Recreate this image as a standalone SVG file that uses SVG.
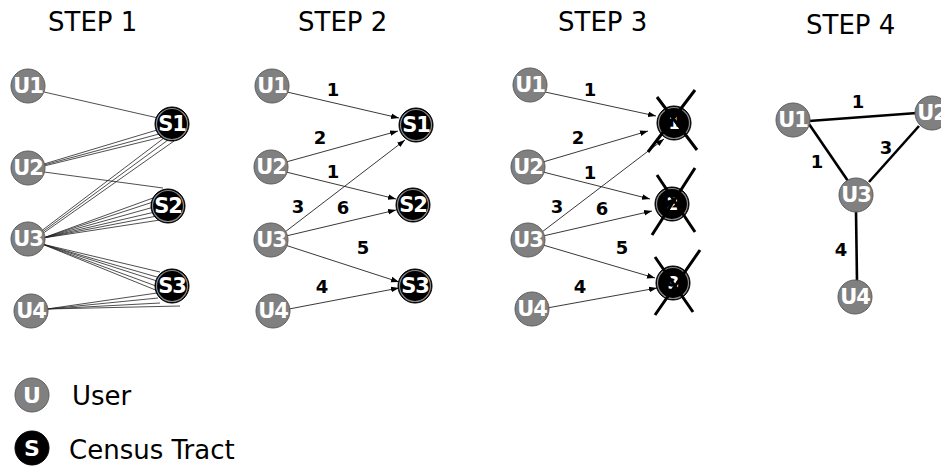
<svg xmlns="http://www.w3.org/2000/svg" width="941" height="467" viewBox="0 0 941 467">
<style>
.title{font-family:"DejaVu Sans",sans-serif;font-size:26px;fill:#000}
.leg{font-family:"DejaVu Sans",sans-serif;font-size:26px;fill:#000}
.u{fill:#808080;stroke:#5e5e5e;stroke-width:1}
.s{fill:#000;stroke:#000;stroke-width:1}
.sr{fill:none;stroke:#8a8a8a;stroke-width:1.2}
.nl{font-family:"DejaVu Sans",sans-serif;font-weight:bold;font-size:21px;letter-spacing:-1px;fill:#fff;text-anchor:middle;dominant-baseline:central}
.ll{font-family:"DejaVu Sans",sans-serif;font-weight:bold;font-size:22px;fill:#fff;text-anchor:middle;dominant-baseline:central}
.el{font-family:"DejaVu Sans",sans-serif;font-weight:bold;font-size:18px;fill:#000;text-anchor:middle}
.thin{stroke:#222;stroke-width:0.8;fill:none}
.arr{stroke:#222;stroke-width:0.9;fill:none;marker-end:url(#ah)}
.thick{stroke:#000;stroke-width:2.6;fill:none}
.x{stroke:#000;stroke-width:3;fill:none}
</style>
<defs>
<marker id="ah" viewBox="0 0 10 10" refX="10" refY="5" markerWidth="8" markerHeight="8" markerUnits="userSpaceOnUse" orient="auto">
<path d="M0,1.5 L10,5 L0,8.5 z" fill="#000"/>
</marker>
</defs>
<rect width="941" height="467" fill="#fff"/>
<text class="title" x="48" y="31">STEP 1</text>
<text class="title" x="298" y="31">STEP 2</text>
<text class="title" x="558" y="31">STEP 3</text>
<text class="title" x="806" y="34">STEP 4</text>

<g id="connectors">
<path class="thin" d="M44,92 L158,118"/>
<path class="thin" d="M44,164 L157,130 M44,165 L159,134 M44,166 L162,137"/>
<path class="thin" d="M44,172 L163,188"/>
<path class="thin" d="M40,232 L164,138 M41,233 L168,140 M42,234 L174,141"/>
<path class="thin" d="M43,238 L153,198 M43,238 L153,202 M43,238 L154,207 M43,238 L155,212 M43,238 L157,216 M43,238 L160,220"/>
<path class="thin" d="M42,244 L160,272 M42,244 L157,277 M42,244 L157,281 M42,244 L156,286 M42,244 L158,291"/>
<path class="thin" d="M47,309 L157,293 M47,309 L158,298 M47,309 L160,303 M47,309 L180,306"/>
<path class="arr" d="M287,92 L399,118"/>
<path class="arr" d="M286,162 L398,131"/>
<path class="arr" d="M285,232 L405,140"/>
<path class="arr" d="M286,172 L396,199"/>
<path class="arr" d="M286,236 L396,210"/>
<path class="arr" d="M285,245 L399,282"/>
<path class="arr" d="M289,309 L399,288"/>
<path class="arr" d="M545,92 L656,116"/>
<path class="arr" d="M543,162 L648,131"/>
<path class="arr" d="M542,232 L664,139"/>
<path class="arr" d="M543,172 L650,199"/>
<path class="arr" d="M543,236 L652,211"/>
<path class="arr" d="M543,245 L655,278"/>
<path class="arr" d="M547,308 L657,288"/>
<path class="thick" d="M809,121 L917,113"/>
<path class="thick" d="M809,124 L848,181"/>
<path class="thick" d="M919,126 L869,182"/>
<path class="thick" d="M856,211 L857,281"/>
</g>

<g id="edge-labels">
<text class="el" x="333" y="96">1</text>
<text class="el" x="320" y="144">2</text>
<text class="el" x="333" y="178">1</text>
<text class="el" x="298" y="213">3</text>
<text class="el" x="343" y="214">6</text>
<text class="el" x="363" y="254">5</text>
<text class="el" x="322" y="293">4</text>
<text class="el" x="590" y="96">1</text>
<text class="el" x="578" y="144">2</text>
<text class="el" x="590" y="179">1</text>
<text class="el" x="557" y="213">3</text>
<text class="el" x="602" y="215">6</text>
<text class="el" x="622" y="254">5</text>
<text class="el" x="580" y="293">4</text>
<text class="el" x="858" y="108">1</text>
<text class="el" x="817" y="168">1</text>
<text class="el" x="886" y="154">3</text>
<text class="el" x="841" y="256">4</text>
</g>

<g id="s1-u1"><circle class="u" cx="28" cy="86" r="17"/><text class="nl" x="28" y="86">U1</text></g>
<g id="s1-u2"><circle class="u" cx="28" cy="168" r="17"/><text class="nl" x="28" y="168">U2</text></g>
<g id="s1-u3"><circle class="u" cx="28" cy="239" r="17"/><text class="nl" x="28" y="239">U3</text></g>
<g id="s1-u4"><circle class="u" cx="31" cy="311" r="17"/><text class="nl" x="31" y="311">U4</text></g>
<g id="s1-s1"><circle class="s" cx="172" cy="124" r="17"/><circle class="sr" cx="172" cy="124" r="15.5"/><text class="nl" x="172" y="124">S1</text></g>
<g id="s1-s2"><circle class="s" cx="168" cy="206" r="17"/><circle class="sr" cx="168" cy="206" r="15.5"/><text class="nl" x="168" y="206">S2</text></g>
<g id="s1-s3"><circle class="s" cx="172" cy="286" r="17"/><circle class="sr" cx="172" cy="286" r="15.5"/><text class="nl" x="172" y="286">S3</text></g>

<g id="s2-u1"><circle class="u" cx="272" cy="86" r="17"/><text class="nl" x="272" y="86">U1</text></g>
<g id="s2-u2"><circle class="u" cx="271" cy="167" r="17"/><text class="nl" x="271" y="167">U2</text></g>
<g id="s2-u3"><circle class="u" cx="271" cy="240" r="17"/><text class="nl" x="271" y="240">U3</text></g>
<g id="s2-u4"><circle class="u" cx="273" cy="311" r="17"/><text class="nl" x="273" y="311">U4</text></g>
<g id="s2-s1"><circle class="s" cx="416" cy="125" r="17"/><circle class="sr" cx="416" cy="125" r="15.5"/><text class="nl" x="416" y="125">S1</text></g>
<g id="s2-s2"><circle class="s" cx="413" cy="205" r="17"/><circle class="sr" cx="413" cy="205" r="15.5"/><text class="nl" x="413" y="205">S2</text></g>
<g id="s2-s3"><circle class="s" cx="415" cy="286" r="17"/><circle class="sr" cx="415" cy="286" r="15.5"/><text class="nl" x="415" y="286">S3</text></g>

<g id="s3-u1"><circle class="u" cx="530" cy="85" r="17"/><text class="nl" x="530" y="85">U1</text></g>
<g id="s3-u2"><circle class="u" cx="528" cy="167" r="17"/><text class="nl" x="528" y="167">U2</text></g>
<g id="s3-u3"><circle class="u" cx="528" cy="240" r="17"/><text class="nl" x="528" y="240">U3</text></g>
<g id="s3-u4"><circle class="u" cx="532" cy="309" r="17"/><text class="nl" x="532" y="309">U4</text></g>
<g id="s3-s1"><circle class="s" cx="674" cy="123" r="17"/><circle class="sr" cx="674" cy="123" r="15.5"/><text class="nl" x="674" y="123" style="font-size:17px">1</text>
<path class="x" d="M657,97 L697,150 M695,90 L648,152"/></g>
<g id="s3-s2"><circle class="s" cx="672" cy="204" r="17"/><circle class="sr" cx="672" cy="204" r="15.5"/><text class="nl" x="672" y="204" style="font-size:17px">2</text>
<path class="x" d="M657,175 L695,232 M695,168 L652,235"/></g>
<g id="s3-s3"><circle class="s" cx="673" cy="283" r="17"/><circle class="sr" cx="673" cy="283" r="15.5"/><text class="nl" x="673" y="283" style="font-size:17px">3</text>
<path class="x" d="M655,257 L693,312 M700,250 L655,315"/></g>

<g id="s4-u1"><circle class="u" cx="793" cy="120" r="17"/><text class="nl" x="793" y="120">U1</text></g>
<g id="s4-u2"><circle class="u" cx="932" cy="113" r="17"/><text class="nl" x="932" y="113">U2</text></g>
<g id="s4-u3"><circle class="u" cx="856" cy="195" r="17"/><text class="nl" x="856" y="195">U3</text></g>
<g id="s4-u4"><circle class="u" cx="855" cy="297" r="17"/><text class="nl" x="855" y="297">U4</text></g>

<g id="legend-user"><circle class="u" cx="32" cy="395" r="17"/><text class="ll" x="32" y="395">U</text><text class="leg" x="72" y="405">User</text></g>
<g id="legend-tract"><circle class="s" cx="32" cy="448" r="17"/><text class="ll" x="32" y="448">S</text><text class="leg" x="69" y="459">Census Tract</text></g>
</svg>
